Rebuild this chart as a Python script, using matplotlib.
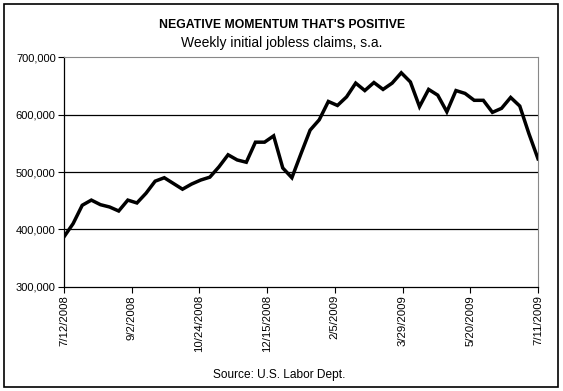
import datetime as dt
import matplotlib
matplotlib.use("Agg")
import matplotlib.pyplot as plt
import matplotlib.dates as mdates
from matplotlib.patches import Rectangle

plt.rcParams['font.family'] = ['Liberation Sans', 'DejaVu Sans']

# weekly initial jobless claims, s.a. (thousands), weeks ending 7/12/2008 .. 7/11/2009
claims = [387, 410, 442, 451, 443, 439, 432, 451, 446, 463,
          484, 490, 480, 470, 479, 486, 491, 509, 530, 521,
          517, 552, 552, 563, 507, 490, 532, 573, 591, 623,
          616, 631, 655, 642, 656, 644, 655, 673, 657, 614,
          644, 634, 605, 642, 637, 625, 625, 604, 611, 630,
          615, 567, 523]
start = dt.date(2008, 7, 12)
weeks = [start + dt.timedelta(weeks=i) for i in range(len(claims))]

tick_dates = [start + dt.timedelta(days=52 * i) for i in range(8)]
tick_labels = [f"{d.month}/{d.day}/{d.year}" for d in tick_dates]
y_ticks = [300000, 400000, 500000, 600000, 700000]

fig = plt.figure(figsize=(5.63, 3.91), dpi=100)
fig.patches.append(Rectangle((4 / 563, 4 / 391), 554 / 563, 383 / 391,
                             transform=fig.transFigure, fill=False,
                             edgecolor='black', linewidth=1.2))

ax = fig.add_axes([64 / 563, 1 - 286.7 / 391, 474 / 563, 229.4 / 391])
ax.plot(weeks, [c * 1000 for c in claims], color='black', linewidth=2.5,
        solid_joinstyle='miter', zorder=3)

ax.set_xlim(mdates.date2num(tick_dates[0]), mdates.date2num(tick_dates[-1]))
ax.set_ylim(300000, 700000)
ax.set_yticks(y_ticks)
ax.set_yticklabels([f"{v:,}" for v in y_ticks], fontsize=8)
ax.set_xticks(mdates.date2num(tick_dates))
ax.set_xticklabels(tick_labels, rotation=90, fontsize=8.2)
ax.tick_params(direction='out', length=4, width=0.8, color='black', pad=2)

for v in y_ticks[1:-1]:
    ax.axhline(v, color='black', linewidth=0.9, zorder=1)

for s in ['top', 'right']:
    ax.spines[s].set_color('#888888')
    ax.spines[s].set_linestyle((0, (1, 1)))
    ax.spines[s].set_linewidth(0.8)
for s in ['left', 'bottom']:
    ax.spines[s].set_color('black')
    ax.spines[s].set_linewidth(0.9)

fig.text(282 / 563, 1 - 25 / 391, "NEGATIVE MOMENTUM THAT'S POSITIVE",
         ha='center', va='center', fontsize=8.8, fontweight='bold')
fig.text(282 / 563, 1 - 43 / 391, "Weekly initial jobless claims, s.a.",
         ha='center', va='center', fontsize=10)
fig.text(279 / 563, 1 - 375 / 391, "Source: U.S. Labor Dept.",
         ha='center', va='center', fontsize=8.6)

fig.savefig("out.png", dpi=100)
